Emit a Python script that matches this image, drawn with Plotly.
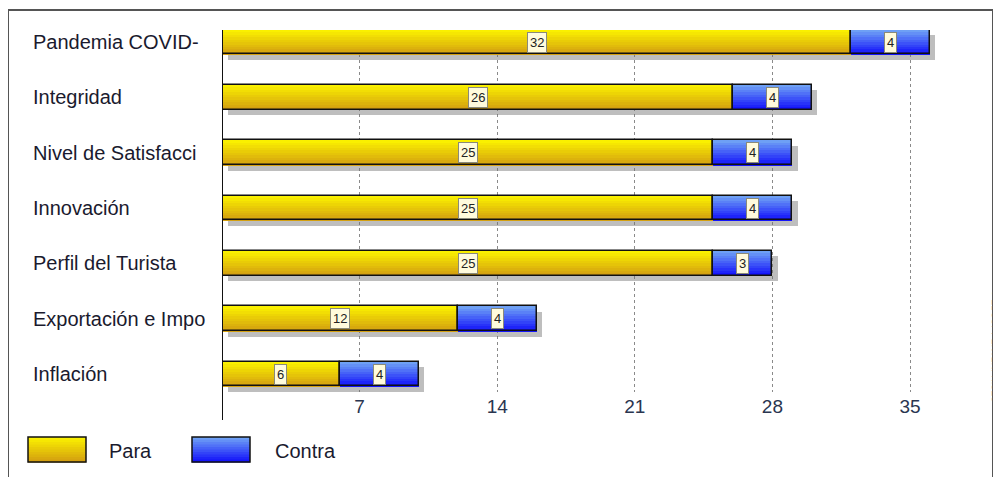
import plotly.graph_objects as go

categories = ["Pandemia COVID-", "Integridad", "Nivel de Satisfacci", "Innovación",
              "Perfil del Turista", "Exportación e Impo", "Inflación"]
para = [32, 26, 25, 25, 25, 12, 6]
contra = [4, 4, 4, 4, 3, 4, 4]
series_names = ["Para", "Contra"]
x_ticks = [7, 14, 21, 28, 35]
watermark = "© EL SOFT-ENTERPRISES"

OFF = 8  # page body margin
W = 0.45
N = 10
X_RANGE = [0, 38]
Y_RANGE = [6.325, -0.217]
L, R, T, B = 222 - OFF, 969 - OFF, 30 - OFF, 392 - OFF
FIG_W, FIG_H = 1001 - OFF, 477 - OFF
FONT = "Liberation Sans, Arial, sans-serif"
TXT = "#1a1a2e"

def px_x(p):
    return (p - OFF - L) / (R - L)

def px_y(p):
    return (B - (p - OFF)) / (B - T)

def mix(c1, c2, t):
    return "rgb(%d,%d,%d)" % tuple(round(a + (b - a) * t) for a, b in zip(c1, c2))

grad = {
    "Para": ((250, 240, 0), (212, 160, 16)),
    "Contra": ((110, 160, 245), (20, 20, 250)),
}

series = [
    (series_names[0], para, [0] * len(para)),
    (series_names[1], contra, [p for p in para]),
]

fig = go.Figure()

# shadows
for name, vals, bases in series:
    fig.add_trace(go.Bar(
        y=categories, x=vals, base=[b + 0.28 for b in bases], orientation="h",
        width=W, offset=-W / 2 + 0.1,
        marker=dict(color="rgba(110,110,110,0.45)", line=dict(width=0)),
        hoverinfo="skip", showlegend=False))

# gradient strips
for name, vals, bases in series:
    top, bot = grad[name]
    for i in range(N):
        fig.add_trace(go.Bar(
            y=categories, x=vals, base=bases, orientation="h",
            width=W / N * 1.2, offset=-W / 2 + i * W / N,
            marker=dict(color=mix(top, bot, i / (N - 1)), line=dict(width=0)),
            hoverinfo="skip", showlegend=False))

# outlines
for name, vals, bases in series:
    fig.add_trace(go.Bar(
        y=categories, x=vals, base=bases, orientation="h",
        width=W, offset=-W / 2, name=name,
        marker=dict(color="rgba(0,0,0,0)", line=dict(color="#111", width=1.5)),
        showlegend=False))

annotations = []
# value labels
for name, vals, bases in series:
    for c, v, b in zip(categories, vals, bases):
        annotations.append(dict(
            x=b + v / 2, y=c, xref="x", yref="y", text=str(v), showarrow=False,
            font=dict(family=FONT, size=13, color="#222"),
            bgcolor="#fffbdc", bordercolor="#8a8a7a", borderwidth=1, borderpad=2))

# left aligned category labels
for c in categories:
    annotations.append(dict(
        x=px_x(31), y=c, xref="paper", yref="y", text=c, showarrow=False,
        xanchor="left", yanchor="middle",
        font=dict(family=FONT, size=20, color=TXT)))

shapes = []
# y axis line (extends a little below the plot area)
shapes.append(dict(type="line", xref="x", yref="paper", x0=0, x1=0,
                   y0=px_y(420), y1=1, line=dict(color="#111", width=2), layer="above"))

# legend swatches
leg = [(series_names[0], 28, 86, 107), (series_names[1], 192, 250, 273)]
for name, x0, x1, tx in leg:
    top, bot = grad[name]
    y0, y1 = 437, 462
    h = (y1 - y0) / N
    for i in range(N):
        shapes.append(dict(type="rect", xref="paper", yref="paper",
                           x0=px_x(x0), x1=px_x(x1),
                           y0=px_y(y0 + i * h), y1=px_y(y0 + (i + 1) * h + 0.5),
                           fillcolor=mix(top, bot, i / (N - 1)), line=dict(width=0),
                           layer="above"))
    shapes.append(dict(type="rect", xref="paper", yref="paper",
                       x0=px_x(x0), x1=px_x(x1), y0=px_y(y0), y1=px_y(y1),
                       line=dict(color="#111", width=1.5), layer="above"))
    annotations.append(dict(x=px_x(tx), y=px_y(451), xref="paper", yref="paper",
                            text=name, showarrow=False, xanchor="left", yanchor="middle",
                            font=dict(family=FONT, size=20, color=TXT)))

# outer frame
shapes.append(dict(type="rect", xref="paper", yref="paper",
                   x0=px_x(8), x1=px_x(993), y0=px_y(500), y1=px_y(10),
                   line=dict(color="#555", width=2), layer="below"))

annotations.append(dict(x=px_x(995), y=px_y(288), xref="paper", yref="paper",
                        text=watermark, showarrow=False, textangle=90,
                        xanchor="center", yanchor="top",
                        font=dict(family=FONT, size=9, color="#6a5a5a")))

fig.update_layout(
    width=FIG_W, height=FIG_H,
    margin=dict(l=L, r=FIG_W - R, t=T, b=FIG_H - B, pad=0),
    paper_bgcolor="white", plot_bgcolor="white",
    barmode="overlay", bargap=0,
    showlegend=False,
    xaxis=dict(range=X_RANGE, tickvals=x_ticks, ticktext=[str(t) for t in x_ticks],
               showgrid=True, gridcolor="#8a8a8a", griddash="dot", gridwidth=1,
               zeroline=False, showline=False, ticks="", ticklabelstandoff=1,
               tickfont=dict(family=FONT, size=19, color="#2a3550")),
    yaxis=dict(range=Y_RANGE, categoryorder="array", categoryarray=categories,
               showticklabels=False, showgrid=False, zeroline=False,
               showline=False, ticks=""),
    annotations=annotations, shapes=shapes,
)

fig.write_html("out.html")
